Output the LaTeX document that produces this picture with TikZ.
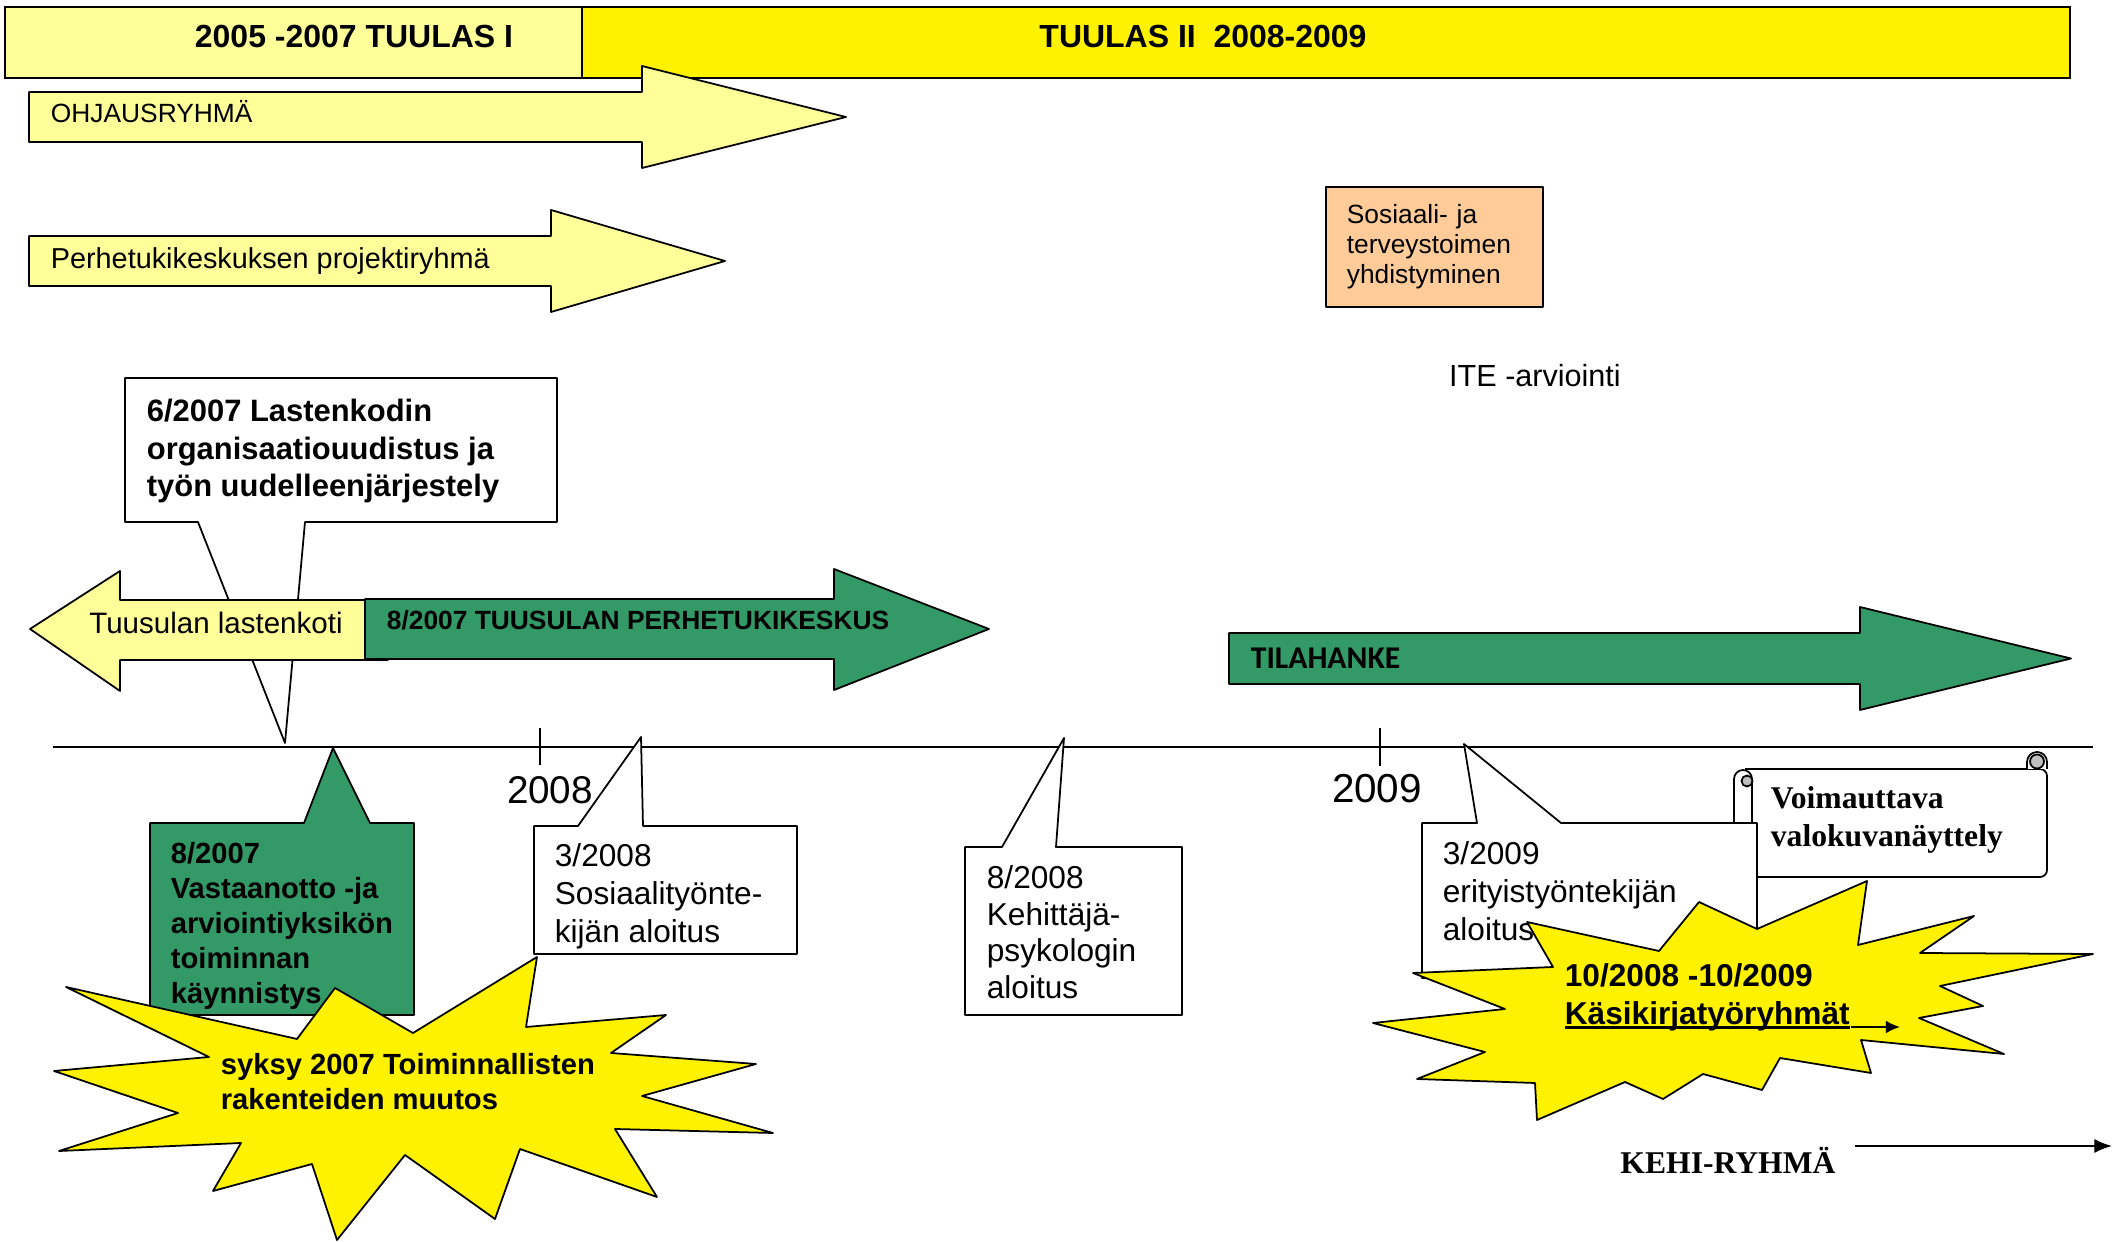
\documentclass[tikz,border=0pt]{standalone}
\usepackage{fontspec}
\setmainfont{Liberation Sans}
\newfontfamily\serifbold{Liberation Serif}
\newfontfamily\carlito{Carlito}
\usepackage{xcolor}
\usetikzlibrary{arrows.meta}

\definecolor{paleyellow}{RGB}{255,255,153}
\definecolor{seagreen}{RGB}{51,153,102}
\definecolor{peach}{RGB}{255,204,153}
\definecolor{scrollgray}{RGB}{192,192,192}

\newcommand{\fatunderline}[1]{\setbox0=\hbox{#1}\rlap{\rule[-1.3pt]{\wd0}{0.9pt}}\box0}

\begin{document}
\begin{tikzpicture}[line width=0.5pt, line join=round,
        txt/.style={inner sep=0pt, align=left, anchor=north west},
        lbl/.style={inner sep=0pt, anchor=base west},
        mid/.style={inner sep=0pt, anchor=base},
        burst/.style={draw, fill=yellow},
        callout/.style={draw, fill=white}]
    \useasboundingbox (0,0) rectangle (21.12,-12.42);

    \draw[fill=paleyellow, line join=miter] (0.05,-0.07) rectangle (5.82,-0.78);
    \draw[fill=yellow, line join=miter] (5.82,-0.07) rectangle (20.70,-0.78);
    \node[mid, font=\fontsize{9.1}{11}\selectfont\bfseries] (tuulas1) at (3.54,-0.48) {2005 -2007 TUULAS I};
    \node[mid, font=\fontsize{9.1}{11}\selectfont\bfseries] (tuulas2) at (12.03,-0.48) {TUULAS II\ \ 2008-2009};

    \draw[fill=paleyellow] (0.29,-0.92) -- (6.42,-0.92) -- (6.42,-0.66) -- (8.46,-1.17)
        -- (6.42,-1.68) -- (6.42,-1.42) -- (0.29,-1.42) -- cycle;
    \node[lbl, font=\fontsize{7.5}{9}\selectfont] (ohjaus) at (0.50,-1.225) {OHJAUSRYHMÄ};
    \draw[fill=paleyellow] (0.29,-2.36) -- (5.51,-2.36) -- (5.51,-2.10) -- (7.25,-2.61)
        -- (5.51,-3.12) -- (5.51,-2.86) -- (0.29,-2.86) -- cycle;
    \node[lbl, font=\fontsize{8.2}{10}\selectfont] (projekti) at (0.50,-2.69) {Perhetukikeskuksen projektiryhmä};

    \node[draw, fill=peach, anchor=north west, text width=1.75cm, inner xsep=0.21cm, inner ysep=0pt,
        minimum height=1.20cm, align=left, font=\fontsize{7.5}{8.5}\selectfont] (sote) at (13.25,-1.86)
        {Sosiaali- ja\\ terveystoimen\\ yhdistyminen};
    \node[mid, font=\fontsize{8.7}{10}\selectfont] (ite) at (15.35,-3.87) {ITE -arviointi};

    \draw[callout] (1.25,-3.78) -- (5.57,-3.78) -- (5.57,-5.22) -- (3.05,-5.22) -- (2.85,-7.43)
        -- (1.98,-5.22) -- (1.25,-5.22) -- cycle;
    \node[txt, font=\fontsize{8.8}{10.7}\selectfont\bfseries] (orgtxt) at (1.46,-3.985)
        {6/2007 Lastenkodin\\ organisaatiouudistus ja\\ työn uudelleenjärjestely};

    \draw[fill=paleyellow] (0.30,-6.29) -- (1.20,-5.71) -- (1.20,-6.00) -- (3.88,-6.00)
        -- (3.88,-6.60) -- (1.20,-6.60) -- (1.20,-6.91) -- cycle;
    \node[mid, font=\fontsize{8.4}{10}\selectfont] (lastenkoti) at (2.16,-6.336) {Tuusulan lastenkoti};
    \draw[fill=seagreen] (3.65,-5.99) -- (8.34,-5.99) -- (8.34,-5.69) -- (9.89,-6.29)
        -- (8.34,-6.90) -- (8.34,-6.59) -- (3.65,-6.59) -- cycle;
    \node[lbl, font=\fontsize{7.5}{9}\selectfont\bfseries] (perhetuki) at (3.86,-6.295) {8/2007 TUUSULAN PERHETUKIKESKUS};

    \draw[fill=seagreen] (12.29,-6.33) -- (18.60,-6.33) -- (18.60,-6.07) -- (20.71,-6.585)
        -- (18.60,-7.10) -- (18.60,-6.84) -- (12.29,-6.84) -- cycle;
    \node[lbl, font=\carlito\fontsize{9}{11}\selectfont\bfseries] (tila) at (12.50,-6.69) {TILAHANKE};

    \coordinate (tlstart) at (0.53,-7.47);
    \coordinate (tlend) at (20.93,-7.47);
    \draw[line width=0.65pt] (tlstart) -- (tlend);
    \draw (5.40,-7.28) -- (5.40,-7.65);
    \draw (13.80,-7.28) -- (13.80,-7.66);
    \node[mid, font=\fontsize{11}{13}\selectfont] (y2008) at (5.50,-8.04) {2008};
    \node[mid, font=\fontsize{11.5}{13}\selectfont] (y2009) at (13.77,-8.025) {2009};

    \draw[draw, fill=seagreen] (1.50,-8.23) -- (3.04,-8.23) -- (3.33,-7.48) -- (3.70,-8.23)
        -- (4.14,-8.23) -- (4.14,-10.15) -- (1.50,-10.15) -- cycle;
    \node[txt, font=\fontsize{8.3}{10}\selectfont\bfseries] (vastaanotto) at (1.70,-8.41)
        {8/2007\\ Vastaanotto -ja\\ arviointiyksikön\\ toiminnan\\ käynnistys};

    \draw[callout] (5.34,-8.26) -- (5.78,-8.26) -- (6.41,-7.37) -- (6.43,-8.26) -- (7.97,-8.26)
        -- (7.97,-9.54) -- (5.34,-9.54) -- cycle;
    \node[txt, font=\fontsize{9}{10.7}\selectfont] (sostyo) at (5.54,-8.43)
        {3/2008\\ Sosiaalityönte-\\ kijän aloitus};

    \draw[callout] (9.65,-8.47) -- (10.02,-8.47) -- (10.64,-7.38) -- (10.56,-8.47) -- (11.82,-8.47)
        -- (11.82,-10.15) -- (9.65,-10.15) -- cycle;
    \node[txt, font=\fontsize{9}{10.4}\selectfont] (psykologi) at (9.86,-8.65)
        {8/2008\\ Kehittäjä-\\ psykologin\\ aloitus};

    \draw[fill=white, rounded corners=0.07cm] (17.45,-7.69) -- (20.47,-7.69) -- (20.47,-8.77) -- (17.52,-8.77);
    \draw[fill=white] (17.34,-8.77) -- (17.34,-7.79) arc (180:0:0.09) -- (17.52,-8.77);
    \draw[fill=scrollgray] (17.47,-7.81) circle (0.055);
    \draw[fill=white] (20.27,-7.69) -- (20.27,-7.62) arc (180:0:0.10) -- (20.47,-7.69);
    \draw[fill=scrollgray] (20.37,-7.615) circle (0.07);
    \node[txt, font=\serifbold\fontsize{9}{10.8}\selectfont\bfseries] (nayttely) at (17.70,-7.856)
        {Voimauttava\\ valokuvanäyttely};

    \draw[callout] (14.22,-8.23) -- (14.77,-8.23) -- (14.64,-7.44) -- (15.61,-8.23) -- (17.57,-8.23)
        -- (17.57,-9.78) -- (14.22,-9.78) -- cycle;
    \node[txt, font=\fontsize{9}{10.7}\selectfont] (erityis) at (14.42,-8.41)
        {3/2009\\ erityistyöntekijän\\ aloitus};

    \draw[burst] (0.66,-9.87) -- (2.97,-10.39) -- (3.35,-9.88) -- (4.13,-10.33) -- (5.37,-9.57)
        -- (5.26,-10.27) -- (6.66,-10.15) -- (6.11,-10.53) -- (7.56,-10.64) -- (6.42,-10.96)
        -- (7.73,-11.33) -- (6.15,-11.29) -- (6.57,-11.97) -- (5.20,-11.49) -- (4.95,-12.19)
        -- (4.05,-11.55) -- (3.37,-12.40) -- (3.12,-11.64) -- (2.13,-11.91) -- (2.41,-11.43)
        -- (0.59,-11.51) -- (1.78,-11.13) -- (0.54,-10.71) -- (2.09,-10.57) -- cycle;
    \node[txt, font=\fontsize{8.3}{10}\selectfont\bfseries] (syksy) at (2.20,-10.52)
        {syksy 2007 Toiminnallisten\\ rakenteiden muutos};

    \draw[burst] (14.13,-9.73) -- (15.53,-9.67) -- (15.27,-9.22) -- (16.59,-9.51) -- (16.99,-9.02)
        -- (17.57,-9.29) -- (18.67,-8.81) -- (18.58,-9.45) -- (19.74,-9.16) -- (19.20,-9.53)
        -- (20.93,-9.54) -- (19.40,-9.86) -- (19.83,-10.06) -- (19.19,-10.18) -- (20.04,-10.54)
        -- (18.61,-10.40) -- (18.71,-10.73) -- (17.80,-10.58) -- (17.62,-10.90) -- (17.03,-10.74)
        -- (16.63,-10.99) -- (16.25,-10.82) -- (15.37,-11.20) -- (15.35,-10.83) -- (14.17,-10.79)
        -- (14.85,-10.52) -- (13.73,-10.23) -- (15.05,-10.09) -- cycle;
    \node[txt, font=\fontsize{9}{10.8}\selectfont\bfseries] (kasikirja) at (15.64,-9.63)
        {10/2008 -10/2009\\ \fatunderline{Käsikirjatyöryhmät}};
    \coordinate (kasiA) at (18.51,-10.27);
    \coordinate (kasiB) at (19.00,-10.27);
    \draw[-{Latex[length=4pt,width=3.6pt]}] (kasiA) -- (kasiB);

    \node[mid, font=\serifbold\fontsize{9}{11}\selectfont\bfseries] (kehi) at (17.28,-11.735) {KEHI-RYHMÄ};
    \coordinate (kehiA) at (18.55,-11.46);
    \coordinate (kehiB) at (21.12,-11.46);
    \draw[-{Latex[length=5pt,width=4pt]}] (kehiA) -- (kehiB);
\end{tikzpicture}
\end{document}
